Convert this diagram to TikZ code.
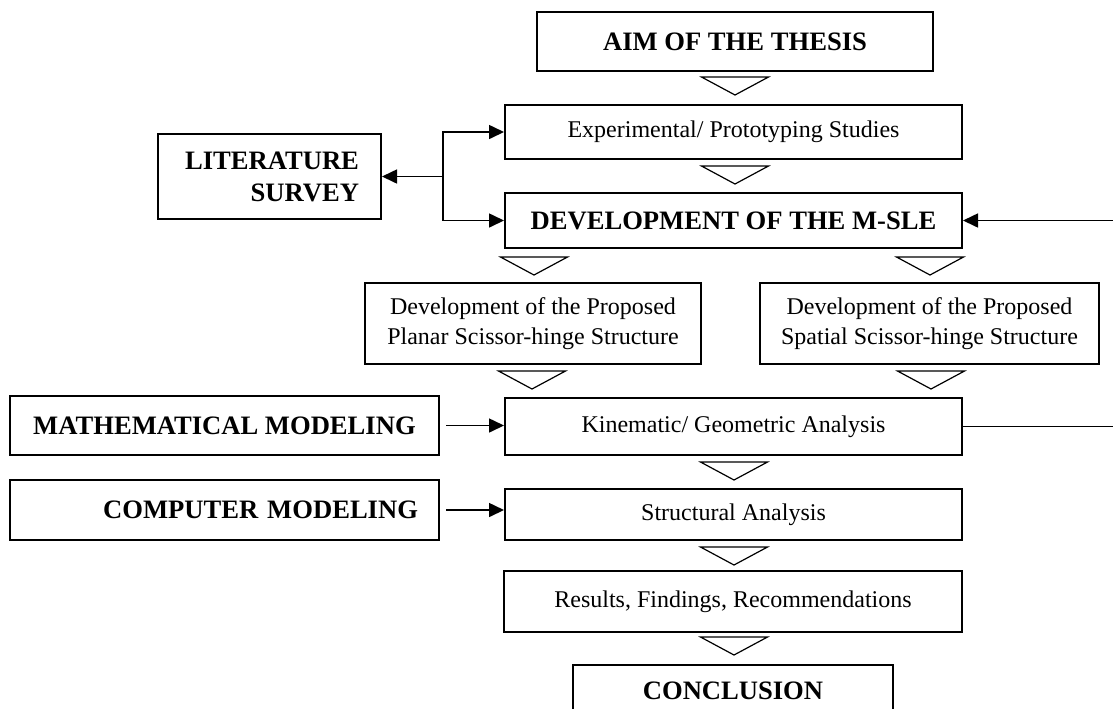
\documentclass[tikz,border=0pt]{standalone}
\usepackage{fontspec}
\setmainfont{Liberation Serif}
\usepackage{tikz}
\usetikzlibrary{arrows.meta}
\tikzset{
  th diagram/.style={x=0.5pt, y=-0.5pt, font=\fontsize{12}{15}\selectfont,
    line join=miter},
  th box/.style={draw, line width=1pt, inner sep=0pt, align=center},
  th key box/.style={th box, font=\fontsize{13.3}{16}\selectfont\bfseries},
  th arrow/.style={-{Triangle[length=7.5pt,width=7pt]}, line width=0.8pt},
  th link/.style={line width=0.8pt},
  th step/.style={line width=0.6pt}
}

\begin{document}
\begin{tikzpicture}[th diagram]
\useasboundingbox (0,0) rectangle (1113,708);
% main column
\node[th key box, minimum width=198pt, minimum height=29.5pt] (aim) at (735,41.5) {AIM OF THE THESIS};
\node[th box, minimum width=228.5pt, minimum height=27pt] (exp) at (733.5,132) {Experimental/ Prototyping Studies};
\node[th key box, minimum width=228.5pt, minimum height=27.5pt] (dev) at (733.5,220.5) {DEVELOPMENT OF THE M-SLE};
\node[th box, minimum width=168pt, minimum height=40.5pt] (planar) at (533,323.5) {Development of the Proposed\\Planar Scissor-hinge Structure};
\node[th box, minimum width=169.5pt, minimum height=40.5pt] (spatial) at (929.5,323.5) {Development of the Proposed\\Spatial Scissor-hinge Structure};
\node[th box, minimum width=228.5pt, minimum height=28.5pt] (kin) at (733.5,426.5) {Kinematic/ Geometric Analysis};
\node[th box, minimum width=228.5pt, minimum height=25.5pt] (struct) at (733.5,514.5) {Structural Analysis};
\node[th box, minimum width=229pt, minimum height=30.5pt] (res) at (733,601.5) {Results, Findings, Recommendations};
\node[th key box, minimum width=160pt, minimum height=26pt] (concl) at (733,691) {CONCLUSION};
% side boxes
\node[th key box, inner xsep=11pt, text width=89.5pt, align=right, minimum height=42.5pt] (lit) at (269.5,176.5) {LITERATURE\\SURVEY};
\node[th key box, minimum width=214.5pt, minimum height=29.5pt] (math) at (224.5,425.5) {MATHEMATICAL MODELING};
\node[th key box, inner xsep=10.5pt, text width=193.5pt, align=right, minimum height=30pt] (comp) at (224.5,510) {COMPUTER MODELING};
% step triangles
\foreach \x/\y in {735/77, 735/166, 534/257, 930/257, 532/371, 931/371, 734/462, 734/547, 734/637}
  \draw[th step] ({\x-33.5},\y) -- ({\x+33.5},\y) -- (\x,{\y+18}) -- cycle;
% connectors
\coordinate (split) at (443,176.5);
\draw[th arrow] (split) -- (lit.east);
\draw[th arrow] (split) |- (exp.west);
\draw[th arrow] (split) |- (dev.west);
\draw[th arrow, shorten <=3pt] (math.east) -- (math.east -| kin.west);
\draw[th arrow, shorten <=3pt] (comp.east) -- (comp.east -| struct.west);
\coordinate (fbout) at (1113,426.5);
\coordinate (fbin) at (1113,220.5);
\draw[th link] (kin.east) -- (fbout);
\draw[th arrow] (fbin) -- (dev.east);
\end{tikzpicture}
\end{document}
